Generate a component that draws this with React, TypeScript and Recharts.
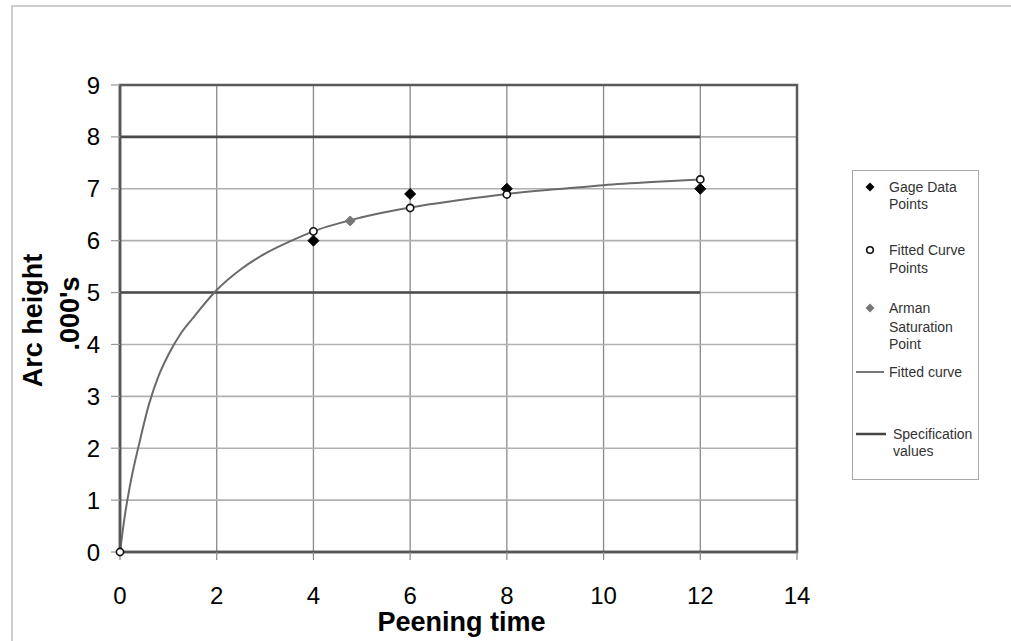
import React from 'react';
import {
  ComposedChart, Line, Scatter, XAxis, YAxis, CartesianGrid, ReferenceArea, Legend, Label,
} from 'recharts';

// ---- data ----
const xTicks = [0, 2, 4, 6, 8, 10, 12, 14];
const yTicks = [0, 1, 2, 3, 4, 5, 6, 7, 8, 9];

const gageX = [4, 6, 8, 12];
const gageY = [6.0, 6.9, 7.0, 7.0];

const fittedPtX = [0, 4, 6, 8, 12];
const fittedPtY = [0, 6.18, 6.63, 6.89, 7.18];

const armanX = [4.76];
const armanY = [6.38];

const curveX = [0, 0.1, 0.2, 0.4, 0.6, 0.8, 1.0, 1.25, 1.5, 2, 2.5, 3, 3.5, 4, 5, 6, 7, 8, 9, 10, 11, 12];
const curveY = [0, 0.7, 1.25, 2.1, 2.85, 3.4, 3.8, 4.2, 4.5, 5.05, 5.45, 5.75, 5.98, 6.18, 6.45, 6.64, 6.78, 6.9, 6.99, 7.07, 7.13, 7.18];

const specValues = [5, 8];
const specRange = [0, 12];

const legendItems = [
  { key: 'gage', lines: ['Gage Data', 'Points'] },
  { key: 'fittedPts', lines: ['Fitted Curve', 'Points'] },
  { key: 'arman', lines: ['Arman', 'Saturation', 'Point'] },
  { key: 'curve', lines: ['Fitted curve'] },
  { key: 'spec', lines: ['Specification', 'values'] },
];

const zip = (xs: number[], ys: number[]) => xs.map((x, i) => ({ x, y: ys[i] }));
const gageData = zip(gageX, gageY);
const fittedPtData = zip(fittedPtX, fittedPtY);
const armanData = zip(armanX, armanY);
const curveData = zip(curveX, curveY);
const specData = specValues.map((v) => specRange.map((x) => ({ x, y: v })));

const FONT = '"Liberation Sans", Arial, sans-serif';

const Diamond = (fill: string, h: number) => (props: any) => {
  const { cx, cy } = props;
  if (cx == null || cy == null) return <g />;
  return (
    <polygon
      points={`${cx},${cy - h} ${cx + h},${cy} ${cx},${cy + h} ${cx - h},${cy}`}
      fill={fill}
      stroke={fill}
      strokeWidth={1}
    />
  );
};

const OpenCircle = (props: any) => {
  const { cx, cy } = props;
  if (cx == null || cy == null) return <g />;
  return <circle cx={cx} cy={cy} r={3.6} fill="#fff" stroke="#111" strokeWidth={1.6} />;
};

const YTitle = (props: any) => {
  const vb = props.viewBox || { x: 60, y: 85, width: 60, height: 467 };
  const cy = vb.y + vb.height / 2;
  const x1 = 41.5;
  const x2 = 79;
  return (
    <g fontFamily={FONT} fontWeight="bold" fontSize={27} fill="#000">
      <text x={x1} y={cy + 2} textAnchor="middle" transform={`rotate(-90, ${x1}, ${cy + 2})`}>Arc height</text>
      <text x={x2} y={cy - 5} textAnchor="middle" transform={`rotate(-90, ${x2}, ${cy - 5})`}>.000's</text>
    </g>
  );
};

const XTitle = (props: any) => {
  const vb = props.viewBox || { x: 120, y: 552, width: 677, height: 60 };
  return (
    <text x={vb.x + vb.width / 2 + 3} y={631} textAnchor="middle" fontFamily={FONT} fontWeight="bold" fontSize={27} fill="#000">
      Peening time
    </text>
  );
};

const LegendBox = () => {
  const tx = 36;
  const textProps = { fontFamily: FONT, fontSize: 14, fill: '#333', dominantBaseline: 'central' as const };
  const d = (cx: number, cy: number, h: number) =>
    `${cx},${cy - h} ${cx + h},${cy} ${cx},${cy + h} ${cx - h},${cy}`;
  return (
    <div style={{ width: 127, height: 310, border: '1px solid #a8a8a8', boxSizing: 'border-box', background: '#fff' }}>
      <svg width={125} height={308} style={{ display: 'block' }}>
        <polygon points={d(17, 16, 4.5)} fill="#000" />
        <text x={tx} y={16} {...textProps}>{legendItems[0].lines[0]}</text>
        <text x={tx} y={33} {...textProps}>{legendItems[0].lines[1]}</text>

        <circle cx={17} cy={79} r={3.3} fill="#fff" stroke="#111" strokeWidth={1.6} />
        <text x={tx} y={79} {...textProps}>{legendItems[1].lines[0]}</text>
        <text x={tx} y={97} {...textProps}>{legendItems[1].lines[1]}</text>

        <polygon points={d(17, 137, 4.5)} fill="#777" />
        <text x={tx} y={137} {...textProps}>{legendItems[2].lines[0]}</text>
        <text x={tx} y={156} {...textProps}>{legendItems[2].lines[1]}</text>
        <text x={tx} y={173} {...textProps}>{legendItems[2].lines[2]}</text>

        <line x1={3} x2={31} y1={201} y2={201} stroke="#777" strokeWidth={2} />
        <text x={tx} y={201} {...textProps}>{legendItems[3].lines[0]}</text>

        <line x1={3} x2={33} y1={263} y2={263} stroke="#444" strokeWidth={2.5} />
        <text x={40} y={263} {...textProps}>{legendItems[4].lines[0]}</text>
        <text x={40} y={280} {...textProps}>{legendItems[4].lines[1]}</text>
      </svg>
    </div>
  );
};

export default function App() {
  return (
    <div style={{ position: 'absolute', left: 0, top: 0, width: 1011, height: 641, overflow: 'hidden', background: '#fff' }}>
      <div
        style={{
          position: 'absolute', left: 11, top: 5, width: 1100, height: 1100,
          border: '2px solid #cdcdcd', boxSizing: 'border-box',
        }}
      />
      <div style={{ position: 'absolute', left: 0, top: 0 }}>
        <ComposedChart width={1011} height={641} margin={{ top: 85, right: 87, bottom: 29, left: 60 }}>
          <CartesianGrid horizontal={false} stroke="#8a8a8a" strokeWidth={1.3} />
          <CartesianGrid vertical={false} stroke="#b0b0b0" strokeWidth={1.6} />
          <XAxis
            type="number"
            dataKey="x"
            domain={[0, 14]}
            ticks={xTicks}
            interval={0}
            height={60}
            tickSize={8}
            tickMargin={27}
            axisLine={{ stroke: '#555', strokeWidth: 2.5 }}
            tickLine={{ stroke: '#888', strokeWidth: 1.2 }}
            tick={{ fontFamily: FONT, fontSize: 24, fill: '#000' }}
          >
            <Label content={XTitle} />
          </XAxis>
          <YAxis
            type="number"
            dataKey="y"
            domain={[0, 9]}
            ticks={yTicks}
            interval={0}
            width={60}
            tickSize={9}
            tickMargin={11}
            axisLine={{ stroke: '#555', strokeWidth: 2.5 }}
            tickLine={{ stroke: '#999', strokeWidth: 1.2 }}
            tick={{ fontFamily: FONT, fontSize: 24, fill: '#000' }}
          >
            <Label content={YTitle} />
          </YAxis>
          <ReferenceArea
            x1={0} x2={14} y1={0} y2={9}
            fill="#fff" fillOpacity={0}
            stroke="#5a5a5a" strokeWidth={2.5}
            ifOverflow="visible"
          />
          {specData.map((data, i) => (
            <Line
              key={`spec-${i}`}
              data={data}
              dataKey="y"
              type="linear"
              stroke="#4a4a4a"
              strokeWidth={2.6}
              dot={false}
              activeDot={false}
              isAnimationActive={false}
              legendType="none"
            />
          ))}
          <Line
            data={curveData}
            dataKey="y"
            type="monotone"
            stroke="#6a6a6a"
            strokeWidth={2}
            dot={false}
            activeDot={false}
            isAnimationActive={false}
          />
          <Scatter data={armanData} dataKey="y" shape={Diamond('#777', 5)} isAnimationActive={false} />
          <Scatter data={gageData} dataKey="y" shape={Diamond('#000', 5.5)} isAnimationActive={false} />
          <Scatter data={fittedPtData} dataKey="y" shape={OpenCircle} isAnimationActive={false} />
          <Legend
            content={LegendBox}
            layout="vertical"
            align="right"
            verticalAlign="top"
            wrapperStyle={{ position: 'absolute', left: 852, top: 170, width: 127, height: 310 }}
          />
        </ComposedChart>
      </div>
    </div>
  );
}
